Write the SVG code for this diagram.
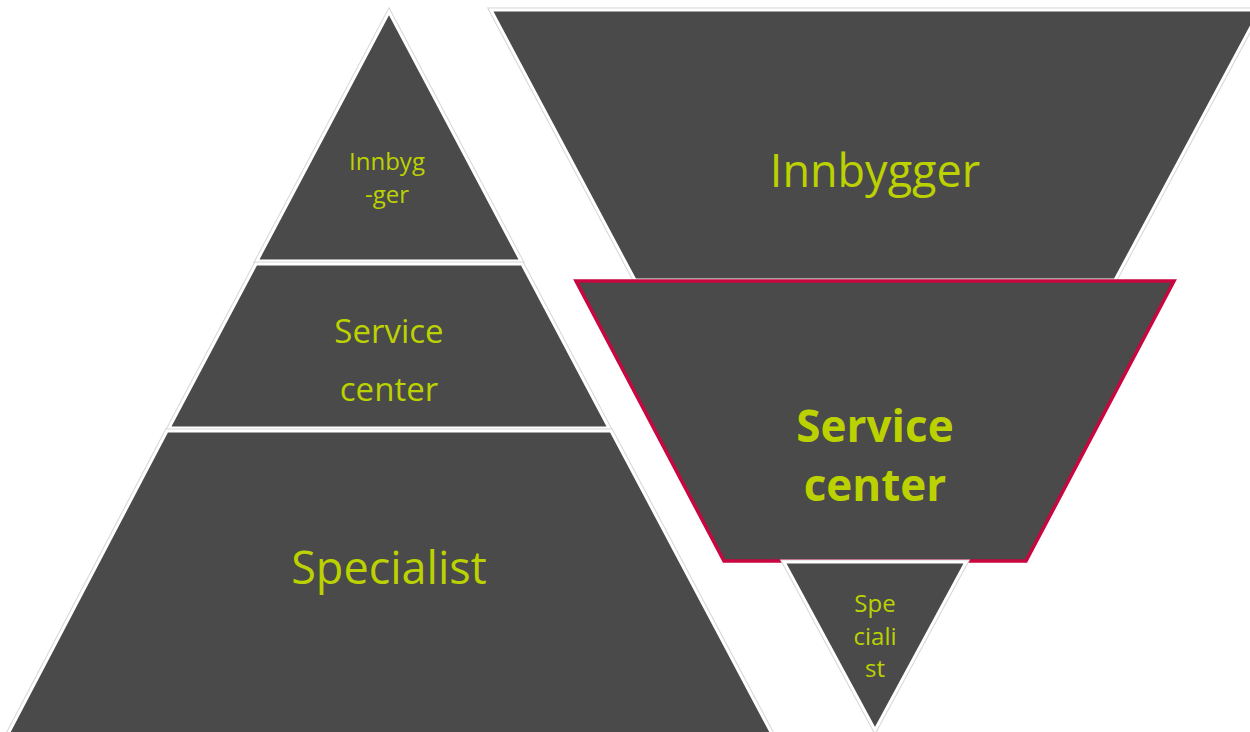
<svg xmlns="http://www.w3.org/2000/svg" width="1250" height="732" viewBox="0 0 1250 732">
  <style>
    .halo { fill: none; stroke: #d6d6d6; stroke-width: 5; stroke-linejoin: miter; }
    .seg { fill: #4a4a4a; stroke: #ffffff; stroke-width: 3; stroke-linejoin: miter; }
    .hot { fill: #4a4a4a; stroke: #c8063f; stroke-width: 3.5; stroke-linejoin: miter; }
    .lbl { font-family: "Open Sans", "Noto Sans", "DejaVu Sans", sans-serif; fill: #bcd200; text-anchor: middle; }
  </style>
  <rect width="1250" height="732" fill="#ffffff"/>

  <!-- Pyramid: apex at top -->
  <g id="pyr-innbygger">
    <polygon class="halo" points="389,12 521,261 257,261"/>
    <polygon class="seg" points="389,12 521,261 257,261"/>
    <text class="lbl" x="387" y="170" font-size="24">Innbyg</text>
    <text class="lbl" x="387" y="203" font-size="24">-ger</text>
  </g>
  <g id="pyr-service">
    <polygon class="halo" points="256,264 522,264 609,428 169,428"/>
    <polygon class="seg" points="256,264 522,264 609,428 169,428"/>
    <text class="lbl" x="389" y="343" font-size="33">Service</text>
    <text class="lbl" x="389" y="401" font-size="33">center</text>
  </g>
  <g id="pyr-specialist">
    <polygon class="halo" points="167,431 611,431 772,734 8,734"/>
    <polygon class="seg" points="167,431 611,431 772,734 8,734"/>
    <text class="lbl" x="389" y="584" font-size="45">Specialist</text>
  </g>

  <!-- Funnel: apex at bottom -->
  <g id="fun-innbygger">
    <polygon class="halo" points="491,10 1260,10 1115,280 635,280"/>
    <polygon class="seg" points="491,10 1260,10 1115,280 635,280"/>
    <text class="lbl" x="875" y="187" font-size="45">Innbygger</text>
  </g>
  <g id="fun-service">
    <polygon class="hot" points="576,281 1174,281 1026,561 724,561"/>
    <text class="lbl" x="875" y="442" font-size="44" font-weight="bold">Service</text>
    <text class="lbl" x="875" y="501" font-size="44" font-weight="bold">center</text>
  </g>
  <g id="fun-specialist">
    <polygon class="halo" points="784,562 966,562 875,730"/>
    <polygon class="seg" points="784,562 966,562 875,730"/>
    <text class="lbl" x="875" y="612" font-size="24">Spe</text>
    <text class="lbl" x="875" y="645" font-size="24">ciali</text>
    <text class="lbl" x="875" y="677" font-size="24">st</text>
  </g>

  <g id="connectors"/>
</svg>
